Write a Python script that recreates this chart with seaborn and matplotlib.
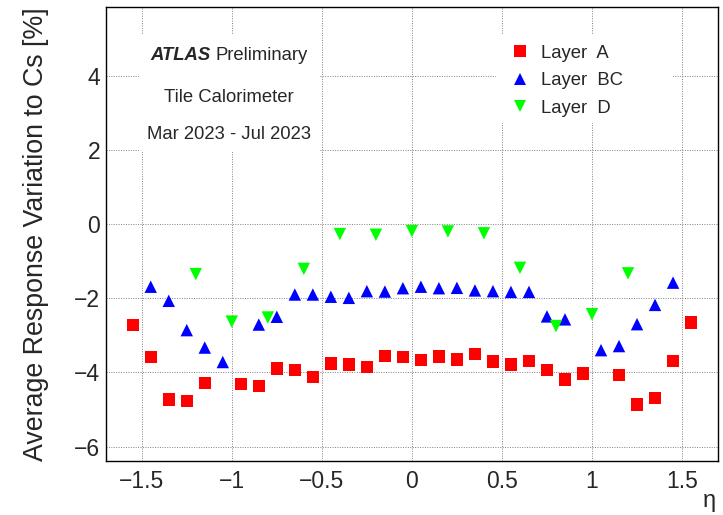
import pandas as pd
import seaborn as sns
import matplotlib.pyplot as plt
from matplotlib.lines import Line2D
from matplotlib.patches import Rectangle
from matplotlib.ticker import MultipleLocator, FuncFormatter

sns.set_theme(style='white')
plt.rcParams['font.family'] = ['Liberation Sans', 'DejaVu Sans']

# Layer A (eta bin centres, response variation in %)
eta_a = [-1.55, -1.45, -1.35, -1.25, -1.15, -0.95, -0.85, -0.75, -0.65, -0.55,
         -0.45, -0.35, -0.25, -0.15, -0.05, 0.05, 0.15, 0.25, 0.35, 0.45,
         0.55, 0.65, 0.75, 0.85, 0.95, 1.15, 1.25, 1.35, 1.45, 1.55]
resp_a = [-2.72, -3.58, -4.73, -4.77, -4.29, -4.31, -4.37, -3.89, -3.94, -4.13,
          -3.76, -3.79, -3.85, -3.56, -3.58, -3.67, -3.57, -3.65, -3.50, -3.71,
          -3.79, -3.69, -3.94, -4.19, -4.03, -4.07, -4.87, -4.69, -3.69, -2.65]
# Layer BC
eta_bc = [-1.45, -1.35, -1.25, -1.15, -1.05, -0.85, -0.75, -0.65, -0.55, -0.45,
          -0.35, -0.25, -0.15, -0.05, 0.05, 0.15, 0.25, 0.35, 0.45, 0.55,
          0.65, 0.75, 0.85, 1.05, 1.15, 1.25, 1.35, 1.45]
resp_bc = [-1.69, -2.07, -2.86, -3.33, -3.72, -2.71, -2.50, -1.90, -1.90, -1.96,
           -1.99, -1.81, -1.82, -1.73, -1.69, -1.73, -1.72, -1.79, -1.81, -1.83,
           -1.83, -2.49, -2.57, -3.40, -3.29, -2.70, -2.18, -1.58]
# Layer D
eta_d = [-1.2, -1.0, -0.8, -0.6, -0.4, -0.2, 0.0, 0.2, 0.4, 0.6, 0.8, 1.0, 1.2]
resp_d = [-1.35, -2.63, -2.52, -1.21, -0.27, -0.29, -0.19, -0.20, -0.25, -1.18,
          -2.75, -2.43, -1.33]

layers = ['Layer  A', 'Layer  BC', 'Layer  D']
colors = {'Layer  A': '#ff0000', 'Layer  BC': '#0000ff', 'Layer  D': '#00ff00'}
marks = {'Layer  A': 's', 'Layer  BC': '^', 'Layer  D': 'v'}

df = pd.concat([
    pd.DataFrame({'eta': eta_a, 'resp': resp_a, 'layer': layers[0]}),
    pd.DataFrame({'eta': eta_bc, 'resp': resp_bc, 'layer': layers[1]}),
    pd.DataFrame({'eta': eta_d, 'resp': resp_d, 'layer': layers[2]}),
])

fig = plt.figure(figsize=(7.23, 5.15), dpi=100)
ax = fig.add_axes([0.1462, 0.1054, 0.8470, 0.8810])
ax.set_axisbelow(True)

sns.scatterplot(data=df, x='eta', y='resp', hue='layer', style='layer',
                palette=colors, markers=marks, s=80, linewidth=0,
                legend=False, ax=ax, zorder=3)

# ROOT style tick labels: %g with a real minus sign
fmt = FuncFormatter(lambda v, pos: ('%g' % round(v, 3)).replace('-', '\u2212'))

ax.set_xlim(-1.7, 1.7)
ax.set_ylim(-6.38, 5.85)
ax.xaxis.set_major_locator(MultipleLocator(0.5))
ax.xaxis.set_minor_locator(MultipleLocator(0.1))
ax.yaxis.set_major_locator(MultipleLocator(2))
ax.yaxis.set_minor_locator(MultipleLocator(0.5))
ax.xaxis.set_major_formatter(fmt)
ax.yaxis.set_major_formatter(fmt)
ax.tick_params(axis='both', which='both', direction='in', color='black',
               width=0.8, labelsize=16.5)
ax.tick_params(axis='x', which='major', length=8.6, pad=7)
ax.tick_params(axis='x', which='minor', length=4.3)
ax.tick_params(axis='y', which='major', length=14.4, pad=4)
ax.tick_params(axis='y', which='minor', length=7.9)
ax.grid(True, which='major', linestyle=(0, (1, 1.5)), color='0.5', linewidth=0.7)
for sp in ax.spines.values():
    sp.set_color('black')
    sp.set_linewidth(1.0)

ax.set_ylabel('Average Response Variation to Cs [%]', fontsize=19.3, loc='top')
ax.yaxis.set_label_coords(-0.092, 1.0)
ax.set_xlabel('η', fontsize=17, loc='right')
ax.xaxis.set_label_coords(0.997, -0.065)

# white boxes behind the text blocks (they hide the grid)
ax.add_patch(Rectangle((0.054, 0.680), 0.296, 0.258, transform=ax.transAxes,
                       facecolor='white', edgecolor='none', zorder=1))
ax.add_patch(Rectangle((0.637, 0.744), 0.289, 0.194, transform=ax.transAxes,
                       facecolor='white', edgecolor='none', zorder=1))

fs = 13.3
ax.text(0.172, 0.894, 'ATLAS', transform=ax.transAxes, ha='right', va='center',
        fontsize=fs, fontweight='bold', fontstyle='italic', zorder=4)
ax.text(0.180, 0.894, 'Preliminary', transform=ax.transAxes, ha='left', va='center',
        fontsize=fs, zorder=4)
ax.text(0.201, 0.801, 'Tile Calorimeter', transform=ax.transAxes, ha='center',
        va='center', fontsize=fs, zorder=4)
ax.text(0.201, 0.718, 'Mar 2023 - Jul 2023', transform=ax.transAxes, ha='center',
        va='center', fontsize=fs, zorder=4)

handles = [Line2D([], [], linestyle='none', marker=marks[l], color=colors[l],
                  markersize=9, markeredgewidth=0) for l in layers]
leg = ax.legend(handles, layers, loc='upper left', bbox_to_anchor=(0.64, 0.945),
                frameon=False, fontsize=fs, handlelength=1.0, handletextpad=0.65,
                labelspacing=0.57, borderpad=0.2)
leg.set_zorder(4)

fig.savefig('out.png', dpi=100)
